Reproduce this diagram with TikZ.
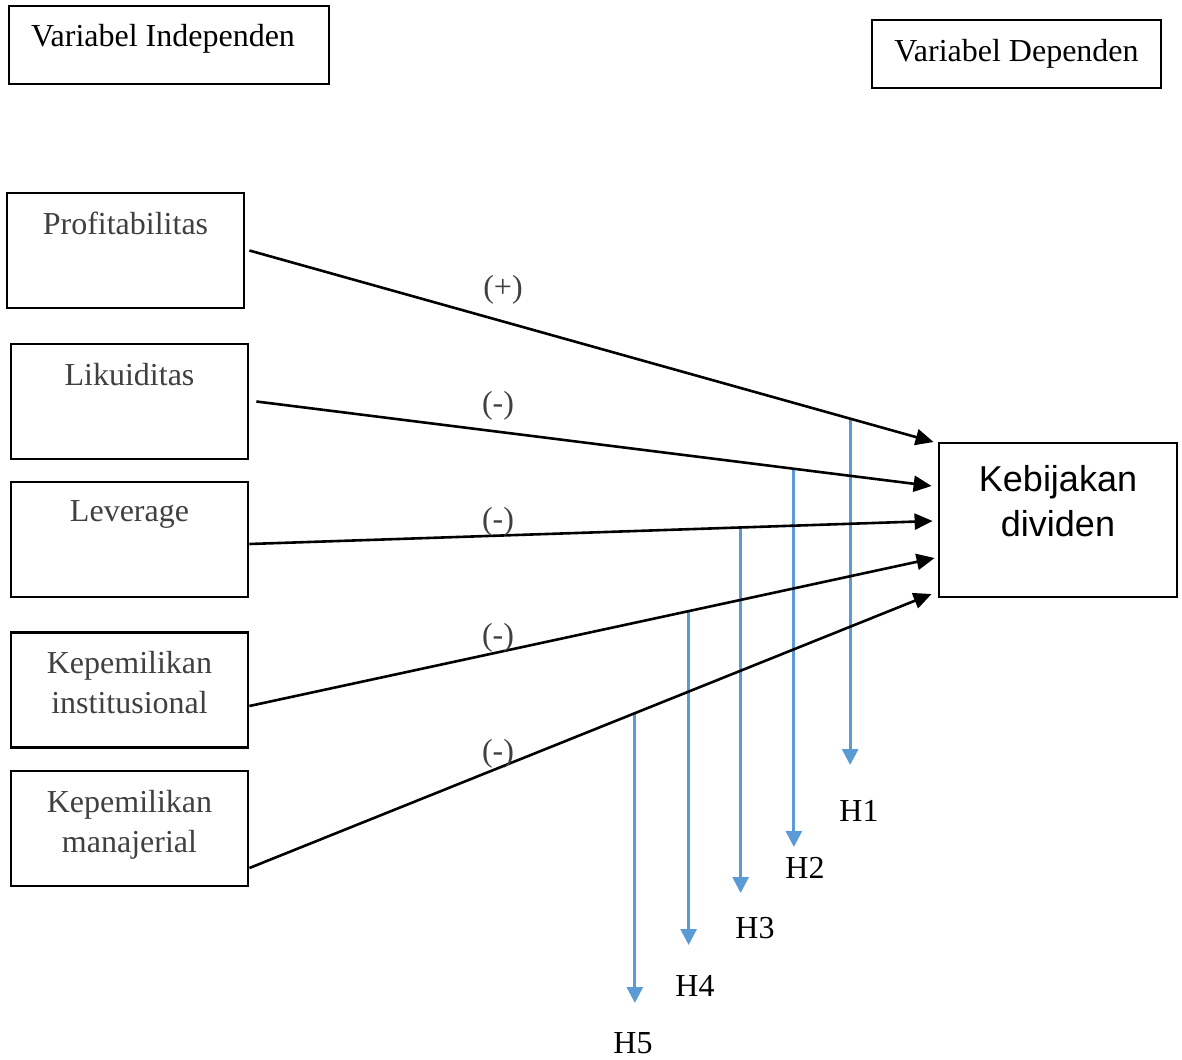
\documentclass[tikz,border=0pt]{standalone}
\usepackage{fontspec}
\setmainfont{Liberation Serif}
\newfontfamily\kebfont{Liberation Sans}
\usepackage{tikz}
\usetikzlibrary{arrows.meta,positioning,calc,backgrounds}
\definecolor{hypblue}{HTML}{5B9BD5}
\definecolor{boxtext}{HTML}{404040}

\begin{document}
\begin{tikzpicture}[
  x=0.5pt, y=-0.5pt,
  box/.style={draw, line width=1.4pt, inner sep=0pt},
  varbox/.style={box, minimum width=118.5pt, minimum height=57.5pt},
  boxlbl/.style={anchor=north, inner sep=0pt, yshift=-10pt, align=center,
                 text=boxtext, font=\fontsize{16}{20}\selectfont},
  hdr/.style={font=\fontsize{16}{20}\selectfont},
  sign/.style={font=\fontsize{16}{20}\selectfont, text=boxtext, inner sep=0pt},
  hlbl/.style={font=\fontsize{16}{20}\selectfont, inner sep=0pt},
  effect/.style={-{Triangle[length=9pt, width=8pt]}, line width=1.3pt},
  hyp/.style={-{Triangle[length=8pt, width=8pt]}, hypblue, line width=1.4pt},
]
\useasboundingbox (0,0) rectangle (1182,1059);

% --- headers
\node[box, minimum width=160pt, minimum height=39pt,
      label={[boxlbl, text=black, xshift=-3pt, yshift=0.5pt]north:Variabel Independen}]
      (indep) at (169,45) {};
\node[box, hdr, minimum width=144.5pt, minimum height=34pt] (dep) at (1016.5,54) {Variabel Dependen};

% --- independent variables (left column)
\node[varbox, label={[boxlbl]north:Profitabilitas}] (prof) at (125.5,250.5) {};
\node[varbox, label={[boxlbl]north:Likuiditas}] (likuid) at (129.5,401.5) {};
\node[varbox, label={[boxlbl]north:Leverage}] (lev) at (129.5,539.5) {};
\node[varbox, label={[boxlbl]north:{Kepemilikan\\institusional}}] (kinst) at (129.5,690) {};
\node[varbox, label={[boxlbl]north:{Kepemilikan\\manajerial}}] (kman) at (129.5,828.5) {};

% --- dependent variable
\node[box, minimum width=119pt, minimum height=77pt,
      label={[boxlbl, text=black, yshift=-1.5pt,
              font=\kebfont\fontsize{18}{22.5}\selectfont]north:{Kebijakan\\dividen}}]
      (keb) at (1058,520) {};

\coordinate (k1) at ([shift={(-4,-78)}]keb.west);
\coordinate (k2) at ([shift={(-6,-34)}]keb.west);
\coordinate (k3) at ([shift={(-5,1)}]keb.west);
\coordinate (k4) at ([shift={(-3,38)}]keb.west);
\coordinate (k5) at ([shift={(-6,74)}]keb.west);

% --- effects on dividend policy
\draw[effect] ([xshift=2pt]prof.east) -- (k1) coordinate[pos=0.878] (s1);
\draw[effect] ([xshift=3.5pt]likuid.east) -- (k2) coordinate[pos=0.796] (s2);
\draw[effect] ([yshift=-2.25pt]lev.east) -- (k3) coordinate[pos=0.719] (s3);
\draw[effect] ([yshift=-8pt]kinst.east) -- (k4) coordinate[pos=0.641] (s4);
\draw[effect] ([yshift=-19.75pt]kman.east) -- (k5) coordinate[pos=0.565] (s5);

\node[sign] (sg1) at (503,290) {(+)};
\node[sign] (sg2) at (498,406) {(-)};
\node[sign] (sg3) at (498,522) {(-)};
\node[sign] (sg4) at (498,638) {(-)};
\node[sign] (sg5) at (498,754) {(-)};

% --- hypotheses, dropped from each effect line
\coordinate (e1) at (851,765);
\coordinate (e2) at (795,847);
\coordinate (e3) at (741,893);
\coordinate (e4) at (689,945);
\coordinate (e5) at (635,1003);

\begin{scope}[on background layer]
  \foreach \i in {1,...,5}
    \draw[hyp] (s\i) -- (s\i |- e\i);
\end{scope}

\node[hlbl] (h1) at (859,811) {H1};
\node[hlbl] (h2) at (805,868) {H2};
\node[hlbl] (h3) at (755,928) {H3};
\node[hlbl] (h4) at (695,986) {H4};
\node[hlbl] (h5) at (633,1043) {H5};
\end{tikzpicture}
\end{document}
